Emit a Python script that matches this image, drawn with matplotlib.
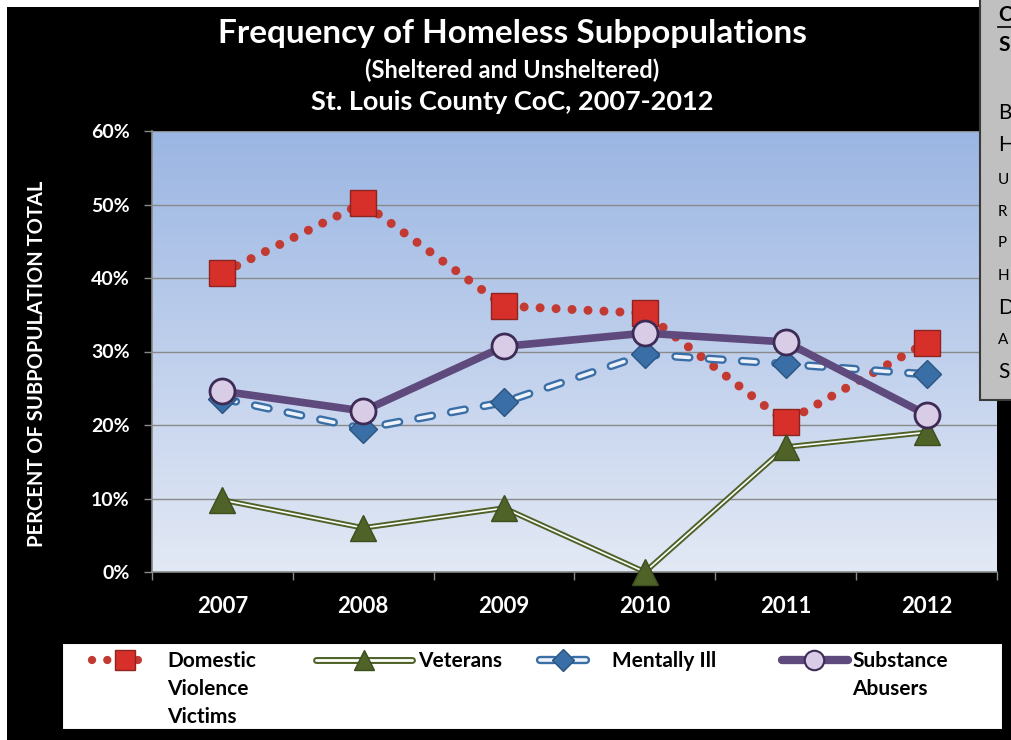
import numpy as np
import matplotlib.pyplot as plt
from matplotlib.patches import Rectangle
from matplotlib.lines import Line2D
from matplotlib.colors import LinearSegmentedColormap

plt.rcParams['font.family'] = ['Lato', 'DejaVu Sans']
plt.rcParams['lines.scale_dashes'] = False

years = ['2007', '2008', '2009', '2010', '2011', '2012']
domestic_violence = [40.7, 50.2, 36.2, 35.2, 20.4, 31.2]
veterans = [9.8, 6.0, 8.7, 0.0, 17.0, 19.0]
mentally_ill = [23.6, 19.5, 23.1, 29.6, 28.3, 26.9]
substance_abusers = [24.6, 21.9, 30.7, 32.5, 31.3, 21.4]
y_ticks = [0, 10, 20, 30, 40, 50, 60]

W, H = 1011, 740


def box(x0, y0, x1, y1):
    # pixel box (top-left origin) -> figure fraction rect
    return [x0 / W, 1 - y1 / H, (x1 - x0) / W, (y1 - y0) / H]


fig = plt.figure(figsize=(W / 100, H / 100), dpi=100, facecolor='white')
fig.patches.append(Rectangle((7 / W, 0), 1, 1 - 7 / H, transform=fig.transFigure,
                             facecolor='black', edgecolor='none', zorder=-10))

ax = fig.add_axes(box(152, 131, 997, 572))
x = np.arange(len(years))

grad = np.linspace(0, 1, 256).reshape(-1, 1)
cmap = LinearSegmentedColormap.from_list('bg', ['#E3E9F5', '#9BB6E3'])
ax.imshow(grad, extent=[-0.5, 5.5, 0, 60], aspect='auto', cmap=cmap,
          origin='lower', zorder=0)
ax.set_xlim(-0.5, 5.5)
ax.set_ylim(0, 60)

for v in y_ticks[1:]:
    ax.axhline(v, color='#8A8A8A', lw=1, zorder=1)

red, green, blue, purple = '#C23A32', '#4F6228', '#3A6EA6', '#5F4A7E'

# domestic violence victims: dotted red with squares
ax.plot(x, domestic_violence, color=red, lw=6.5, dashes=(0.01, 11.5),
        dash_capstyle='round', zorder=3)
ax.plot(x, domestic_violence, ls='none', marker='s', ms=19, mfc='#D7302A',
        mec='#8E2420', mew=1, zorder=6, clip_on=False)

# veterans: double green line with triangles
ax.plot(x, veterans, color=green, lw=4, zorder=3, clip_on=False)
ax.plot(x, veterans, color='white', lw=1.2, zorder=3, clip_on=False)
ax.plot(x, veterans, ls='none', marker='^', ms=19, mfc=green, mec='#3E4E1E',
        mew=1, zorder=6, clip_on=False)

# mentally ill: double dashed blue with diamonds
ax.plot(x, mentally_ill, color=blue, lw=6, dashes=(10, 14),
        dash_capstyle='round', zorder=4)
ax.plot(x, mentally_ill, color='#EEF2FA', lw=2.6, dashes=(10, 14),
        dash_capstyle='round', zorder=4)
ax.plot(x, mentally_ill, ls='none', marker='D', ms=14, mfc=blue, mec='#2B5480',
        mew=1, zorder=6)

# substance abusers: solid purple with circles
ax.plot(x, substance_abusers, color=purple, lw=5.5, zorder=5)
ax.plot(x, substance_abusers, ls='none', marker='o', ms=18, mfc='#D9CCE7',
        mec='#3E2B55', mew=2, zorder=7)

ax.set_xticks(x)
ax.set_xticklabels(years, color='white', fontsize=16, fontweight='bold')
ax.set_xticks(np.arange(-0.5, 6, 1), minor=True)
ax.tick_params(axis='x', which='major', length=0, pad=17)
ax.tick_params(axis='x', which='minor', length=6, color='#8A8A8A', width=1)
ax.set_yticks(y_ticks)
ax.set_yticklabels([f'{v}%' for v in y_ticks], color='white', fontsize=14,
                   fontweight='bold')
ax.tick_params(axis='y', length=6, color='#8A8A8A', width=1, pad=10)
for s in ['top', 'right']:
    ax.spines[s].set_visible(False)
for s in ['left', 'bottom']:
    ax.spines[s].set_color('#8A8A8A')
    ax.spines[s].set_linewidth(1.2)

fig.text(37 / W, 1 - 364 / H, 'PERCENT OF SUBPOPULATION TOTAL', rotation=90,
         color='white', fontsize=14.5, fontweight='bold', ha='center',
         va='center')

fig.text(512 / W, 1 - 33 / H, 'Frequency of Homeless Subpopulations',
         color='white', fontsize=24, fontweight='bold', ha='center', va='center')
fig.text(512 / W, 1 - 70 / H, '(Sheltered and Unsheltered)',
         color='white', fontsize=17, fontweight='bold', ha='center', va='center')
fig.text(512 / W, 1 - 102 / H, 'St. Louis County CoC, 2007-2012',
         color='white', fontsize=19.5, fontweight='bold', ha='center',
         va='center')

# legend box drawn by hand
lax = fig.add_axes(box(62, 643, 1003, 730))
lax.set_xlim(62, 1003)
lax.set_ylim(730, 643)
lax.set_facecolor('white')
lax.set_xticks([])
lax.set_yticks([])
for s in lax.spines.values():
    s.set_color('black')
    s.set_linewidth(1.5)

ly = 660
lax.plot([92, 150], [ly, ly], color=red, lw=6, dashes=(0.01, 11),
         dash_capstyle='round')
lax.plot([125], [ly], marker='s', ms=14, mfc='#D7302A', mec='#8E2420')
lax.plot([316, 412], [ly, ly], color=green, lw=5, solid_capstyle='round')
lax.plot([316, 412], [ly, ly], color='white', lw=2, solid_capstyle='round')
lax.plot([364], [ly], marker='^', ms=14, mfc=green, mec='#3E4E1E')
lax.plot([540, 586], [ly, ly], color=blue, lw=6, dashes=(10, 14),
         dash_capstyle='round')
lax.plot([540, 586], [ly, ly], color='#EEF2FA', lw=2.6, dashes=(10, 14),
         dash_capstyle='round')
lax.plot([563], [ly], marker='D', ms=11, mfc=blue, mec='#2B5480')
lax.plot([782, 848], [ly, ly], color=purple, lw=6, solid_capstyle='round')
lax.plot([814], [ly], marker='o', ms=14, mfc='#D9CCE7', mec='#3E2B55', mew=1.5)

leg_labels = [(167, 'Domestic\nViolence\nVictims'), (418, 'Veterans'),
              (612, 'Mentally Ill'), (852, 'Substance\nAbusers')]
for lx, lab in leg_labels:
    lax.text(lx, ly - 9, lab, fontsize=15, fontweight='bold', color='black',
             ha='left', va='top', linespacing=1.5)

# cropped side panel on the right
fig.patches.append(Rectangle((980 / W, 1 - 400 / H), 40 / W, 410 / H,
                             transform=fig.transFigure, facecolor='#C0C0C0',
                             edgecolor='#3A3A3A', lw=1.5, zorder=20))
side = [(15, 'C', 15, 'bold'), (45, 'S', 15, 'bold'), (113, 'B', 15, 'normal'),
        (145, 'H', 15, 'normal'), (180, 'U', 11, 'normal'),
        (212, 'R', 11, 'normal'), (243, 'P', 11, 'normal'),
        (276, 'H', 11, 'normal'), (308, 'D', 15, 'normal'),
        (340, 'A', 11, 'normal'), (372, 'S', 15, 'normal')]
for sy, t, fs, fw in side:
    fig.text(998 / W, 1 - sy / H, t, fontsize=fs, fontweight=fw, color='black',
             ha='left', va='center', zorder=21)
fig.lines.append(Line2D([998 / W, 1], [1 - 27 / H, 1 - 27 / H],
                        transform=fig.transFigure, color='black', lw=1.2,
                        zorder=21))

fig.savefig('out.png', dpi=100, facecolor='white')
